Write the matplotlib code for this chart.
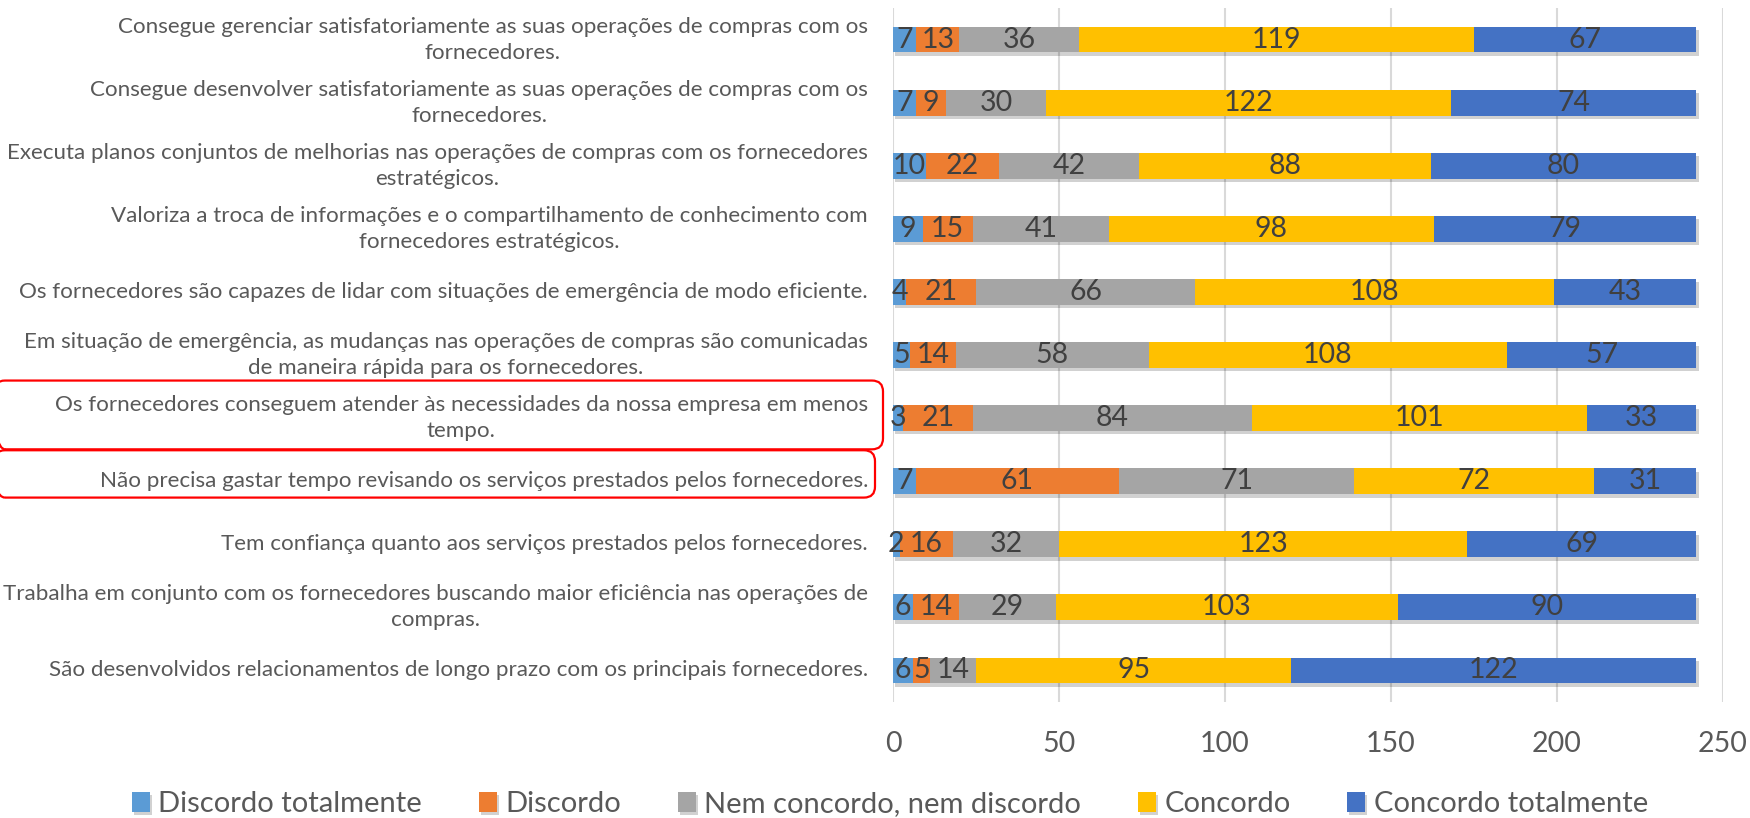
import numpy as np
import matplotlib
matplotlib.use("Agg")
import matplotlib.pyplot as plt
import matplotlib.patheffects as pe
from matplotlib.patches import FancyBboxPatch
from matplotlib.transforms import IdentityTransform

plt.rcParams['font.family'] = ['Lato', 'DejaVu Sans']

categories = [
    "Consegue gerenciar satisfatoriamente as suas operações de compras com os\nfornecedores.",
    "Consegue desenvolver satisfatoriamente as suas operações de compras com os\nfornecedores.",
    "Executa planos conjuntos de melhorias nas operações de compras com os fornecedores\nestratégicos.",
    "Valoriza a troca de informações e o compartilhamento de conhecimento com\nfornecedores estratégicos.",
    "Os fornecedores são capazes de lidar com situações de emergência de modo eficiente.",
    "Em situação de emergência, as mudanças nas operações de compras são comunicadas\nde maneira rápida para os fornecedores.",
    "Os fornecedores conseguem atender às necessidades da nossa empresa em menos\ntempo.",
    "Não precisa gastar tempo revisando os serviços prestados pelos fornecedores.",
    "Tem confiança quanto aos serviços prestados pelos fornecedores.",
    "Trabalha em conjunto com os fornecedores buscando maior eficiência nas operações de\ncompras.",
    "São desenvolvidos relacionamentos de longo prazo com os principais fornecedores.",
]

series_names = ["Discordo totalmente", "Discordo", "Nem concordo, nem discordo",
                "Concordo", "Concordo totalmente"]
discordo_totalmente = [7, 7, 10, 9, 4, 5, 3, 7, 2, 6, 6]
discordo = [13, 9, 22, 15, 21, 14, 21, 61, 16, 14, 5]
nem = [36, 30, 42, 41, 66, 58, 84, 71, 32, 29, 14]
concordo = [119, 122, 88, 98, 108, 108, 101, 72, 123, 103, 95]
concordo_totalmente = [67, 74, 80, 79, 43, 57, 33, 31, 69, 90, 122]
colors = ["#5B9BD5", "#ED7D31", "#A5A5A5", "#FFC000", "#4472C4"]
xticks = [0, 50, 100, 150, 200, 250]
highlighted = [6, 7]

series = [discordo_totalmente, discordo, nem, concordo, concordo_totalmente]

W, H = 1750, 818
fig = plt.figure(figsize=(W / 100, H / 100), dpi=100)
ax = fig.add_axes([893 / W, 1 - 702 / H, (1723 - 893) / W, (702 - 8) / H])

y = np.arange(len(categories))
left = np.zeros(len(categories))
shadow = [pe.SimplePatchShadow(offset=(1.5, -2.5), shadow_rgbFace='black', alpha=0.18),
          pe.Normal()]
for name, vals, col in zip(series_names, series, colors):
    vals = np.array(vals, dtype=float)
    cont = ax.barh(y, vals, left=left, height=0.41, color=col, label=name, zorder=3)
    for p in cont:
        p.set_path_effects(shadow)
    ax.bar_label(cont, labels=[str(int(v)) for v in vals], label_type='center',
                 fontsize=20.5, color='#404040', zorder=4)
    left += vals

ax.set_ylim(len(categories) - 0.5, -0.5)
ax.set_xlim(0, 250)
ax.set_xticks(xticks)
ax.set_xticklabels([str(t) for t in xticks])
ax.set_yticks(y)
ax.set_yticklabels(categories, ha='right', va='center', multialignment='center')
for t in ax.get_yticklabels():
    t.set_linespacing(1.38)
ax.tick_params(axis='y', length=0, pad=18, labelsize=16.1, labelcolor='#595959')
ax.tick_params(axis='x', length=0, pad=21, labelsize=20.5, labelcolor='#595959')
ax.grid(axis='x', color='#D9D9D9', linewidth=1.5)
ax.set_axisbelow(True)
for s in ax.spines.values():
    s.set_visible(False)

leg = fig.legend(loc='center', bbox_to_anchor=(890 / W, 1 - 804 / H), ncol=5,
                 frameon=False, fontsize=21, handlelength=0.62, handleheight=0.66,
                 handletextpad=0.28, columnspacing=1.95, borderpad=0, labelcolor='#595959')

# red rounded highlight boxes around two category labels
fig.canvas.draw()
box_specs = {6: (-0.595, 0.495, 883), 7: (-0.49, 0.26, 875)}
for idx in highlighted:
    d_top, d_bot, xr = box_specs[idx]
    (_, ytop), = ax.transData.transform([(0, idx + d_top)])
    (_, ybot), = ax.transData.transform([(0, idx + d_bot)])
    x0 = -6
    box = FancyBboxPatch((x0, ybot), xr - x0, ytop - ybot,
                         boxstyle="round,pad=0,rounding_size=11",
                         transform=IdentityTransform(), fill=False,
                         edgecolor='#FF0000', linewidth=1.6, zorder=10)
    fig.patches.append(box)

fig.savefig("out.png", dpi=100, facecolor='white')
